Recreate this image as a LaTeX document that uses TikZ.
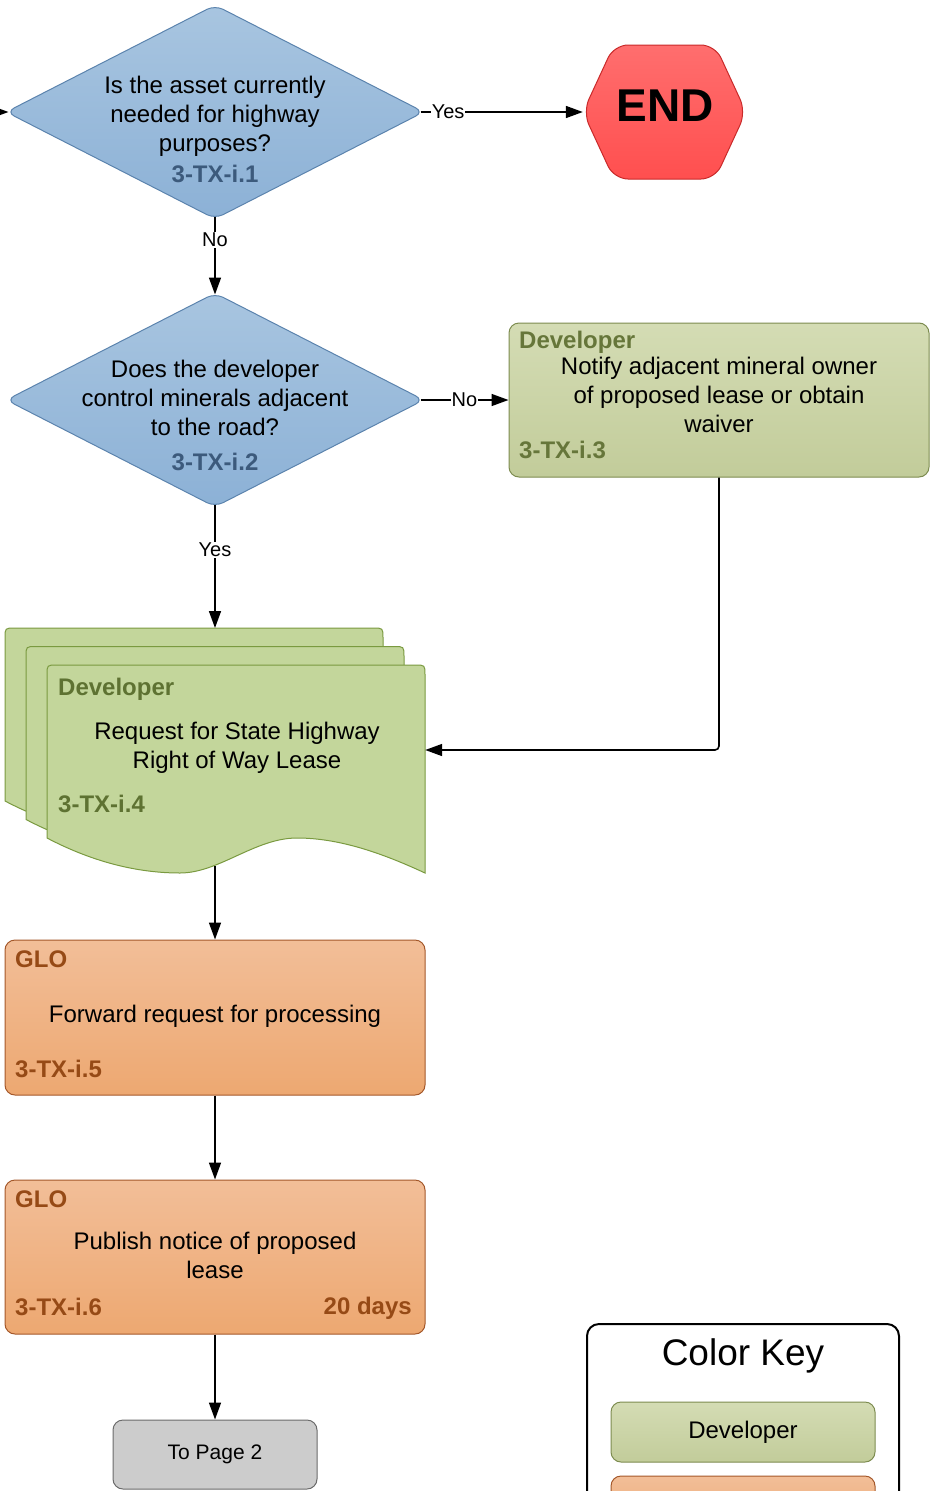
\documentclass[tikz,border=0pt]{standalone}
\usepackage{fontspec}
\setmainfont{Liberation Sans}
\usetikzlibrary{shapes.geometric,arrows.meta}
\definecolor{diatop}{HTML}{A8C5E0}
\definecolor{diabot}{HTML}{8CB1D6}
\definecolor{diaborder}{HTML}{5B83AD}
\definecolor{idblue}{HTML}{3C5A7C}
\definecolor{endtop}{HTML}{FF6E6E}
\definecolor{endbot}{HTML}{FF4F4F}
\definecolor{endborder}{HTML}{C92A2A}
\definecolor{gtop}{HTML}{D4DCB4}
\definecolor{gbot}{HTML}{C2CC9A}
\definecolor{gborder}{HTML}{7D8C50}
\definecolor{gtext}{HTML}{66763A}
\definecolor{docfill}{HTML}{C3D69B}
\definecolor{docborder}{HTML}{7A9A40}
\definecolor{doctext}{HTML}{5E7232}
\definecolor{otop}{HTML}{F2BE98}
\definecolor{obot}{HTML}{EDA871}
\definecolor{oborder}{HTML}{A4582A}
\definecolor{otext}{HTML}{964A16}
\definecolor{grayfill}{HTML}{CCCCCC}
\definecolor{grayborder}{HTML}{6B6B6B}
\begin{document}
\begin{tikzpicture}[x=1pt,y=-1pt,
  conn/.style={line width=1.6pt,-{Triangle[length=17pt,width=12pt]}},
  lbl/.style={font=\fontsize{20}{24}\selectfont,fill=white,inner sep=1pt},
  main/.style={font=\fontsize{24}{29}\selectfont,align=center,inner sep=0},
  hdr/.style={font=\fontsize{24}{29}\selectfont\bfseries,inner sep=0,anchor=west},
  dia/.style={diamond,draw=diaborder,line width=1pt,top color=diatop,bottom color=diabot,
    minimum width=418pt,minimum height=214pt,inner sep=0,rounded corners=9pt},
  gbox/.style={rectangle,draw=gborder,line width=1pt,top color=gtop,bottom color=gbot,rounded corners=10pt,inner sep=0},
  obox/.style={rectangle,draw=oborder,line width=1pt,top color=otop,bottom color=obot,rounded corners=10pt,inner sep=0},
  docshape/.style={draw=docborder,line width=1pt,fill=docfill},
]
\useasboundingbox (0,0) rectangle (930,1491);

% decision 1
\node[dia] (d1) at (215,112) {};
\node[main] (d1t) at (215,116) {Is the asset currently\\needed for highway\\purposes?};
\node[hdr,anchor=center,text=idblue] (d1id) at (215,174) {3-TX-i.1};
\coordinate (inl) at (-20,112);
\draw[conn] (inl) -- ([xshift=3pt]d1.west);

% END
\path[draw=endborder,line width=1pt,top color=endtop,bottom color=endbot,rounded corners=14pt]
  (583,112) -- (614,45) -- (715,45) -- (746,112) -- (715,179) -- (614,179) -- cycle;
\node[minimum width=163pt,minimum height=134pt,inner sep=0] (end) at (664.5,112) {};
\node[font=\fontsize{46}{50}\selectfont\bfseries,inner sep=0] (endt) at (665,106) {END};
\draw[conn] ([xshift=-4pt]d1.east) -- node[lbl,pos=0.17] (lyes1) {Yes} (end.west);

% decision 2
\node[dia] (d2) at (215,400) {};
\node[main] (d2t) at (215,398) {Does the developer\\control minerals adjacent\\to the road?};
\node[hdr,anchor=center,text=idblue] (d2id) at (215,462) {3-TX-i.2};
\draw[conn] ([yshift=3pt]d1.south) -- node[lbl,pos=0.3] (lno1) {No} ([yshift=-2pt]d2.north);

% box 3
\node[gbox,minimum width=420pt,minimum height=154pt] (b3) at (719,400) {};
\node[hdr,text=gtext] (b3h) at (519,342) {Developer};
\node[main] (b3t) at (719,395) {Notify adjacent mineral owner\\of proposed lease or obtain\\waiver};
\node[hdr,text=gtext] (b3id) at (519,450) {3-TX-i.3};
\draw[conn] ([xshift=-4pt]d2.east) -- node[lbl,pos=0.5] (lno2) {No} (b3.west);

% multi document
\foreach \dx/\dy in {0/0,21/18.5,42/37}{
  \path[docshape,shift={(5+\dx,628+\dy)}]
    (0,173) -- (0,10) .. controls (0,0) .. (10,0) -- (368,0) .. controls (378,0) .. (378,10)
    -- (378,208) .. controls (335,188) and (292,173) .. (250,173)
    .. controls (208,173) and (172,208) .. (133,208)
    .. controls (85,208) and (40,194) .. (0,173) -- cycle;
}
\node[minimum width=378pt,minimum height=170pt,inner sep=0] (doc) at (236,750) {};
\node[hdr,text=doctext] (doch) at (58,689) {Developer};
\node[main] (doct) at (237,748) {Request for State Highway\\Right of Way Lease};
\node[hdr,text=doctext] (docid) at (58,804) {3-TX-i.4};
\coordinate (doctop) at (215,628);
\coordinate (docbot) at (215,866);
\draw[conn] ([yshift=3pt]d2.south) -- node[lbl,pos=0.37] (lyes2) {Yes} (doctop);
\draw[conn,rounded corners=4pt] (b3.south) |- (doc.east);

% box 5
\node[obox,minimum width=420pt,minimum height=155pt] (b5) at (215,1017.5) {};
\node[hdr,text=otext] (b5h) at (15,959) {GLO};
\node[main] (b5t) at (215,1016) {Forward request for processing};
\node[hdr,text=otext] (b5id) at (15,1069) {3-TX-i.5};
\draw[conn] (docbot) -- (b5.north);

% box 6
\node[obox,minimum width=420pt,minimum height=154pt] (b6) at (215,1257) {};
\node[hdr,text=otext] (b6h) at (15,1199) {GLO};
\node[main] (b6t) at (215,1255) {Publish notice of proposed\\lease};
\node[hdr,text=otext] (b6id) at (15,1307) {3-TX-i.6};
\node[hdr,text=otext,anchor=east] (b6d) at (412,1308) {20 days};
\draw[conn] (b5.south) -- (b6.north);

% to page 2
\node[rectangle,draw=grayborder,line width=1pt,fill=grayfill,rounded corners=10pt,
  minimum width=204pt,minimum height=69pt,inner sep=0,font=\fontsize{21}{25}\selectfont] (tp) at (215,1454.5) {To Page 2};
\draw[conn] (b6.south) -- (tp.north);

% color key
\draw[line width=2pt,rounded corners=12pt] (587,1560) -- (587,1324) -- (899,1324) -- (899,1560);
\node[font=\fontsize{37}{42}\selectfont,inner sep=0] (ckt) at (743,1356) {Color Key};
\node[gbox,minimum width=264pt,minimum height=60pt,font=\fontsize{24}{29}\selectfont] (ckd) at (743,1432) {Developer};
\node[obox,minimum width=264pt,minimum height=60pt] (cko) at (743,1506) {};
\end{tikzpicture}
\end{document}
